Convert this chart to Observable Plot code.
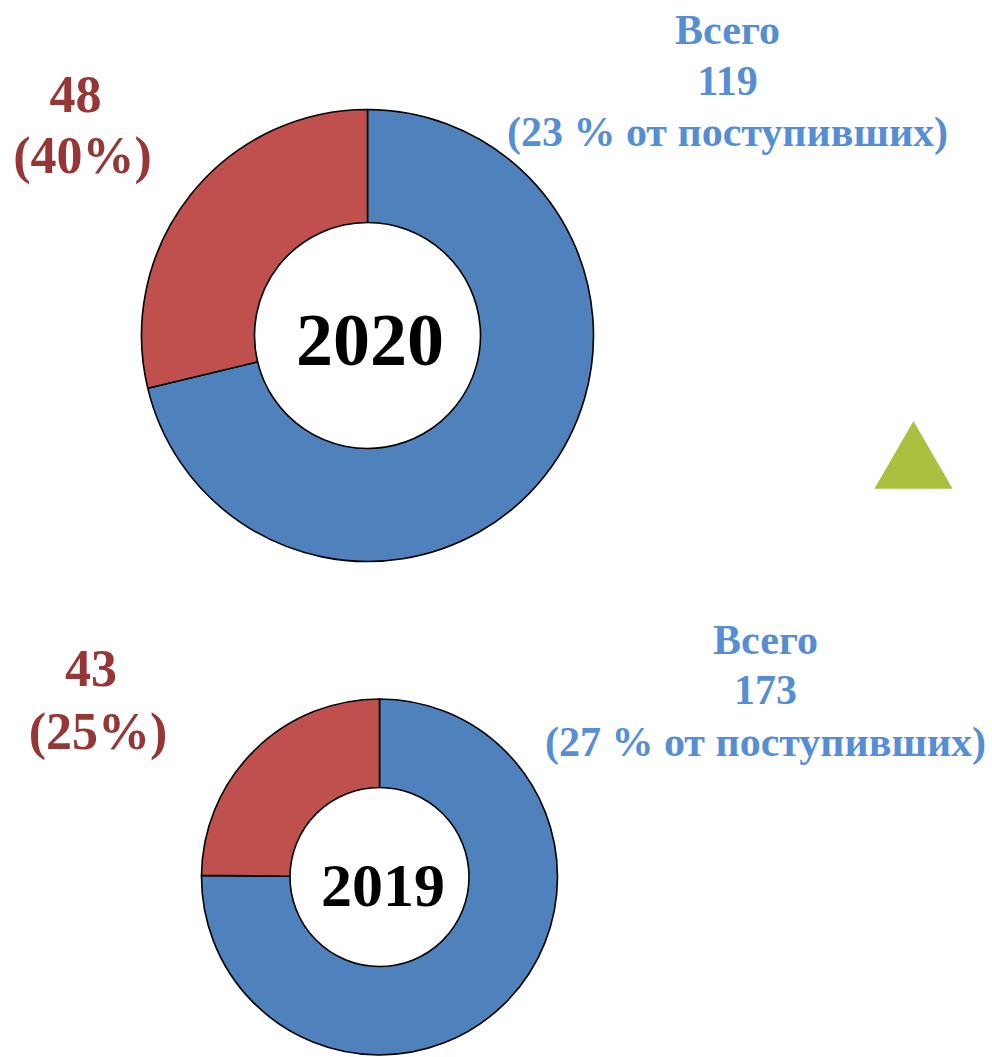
<!DOCTYPE html>
<html>
<head>
<meta charset="utf-8">
<script src="https://cdn.jsdelivr.net/npm/d3@7"></script>
<script src="https://cdn.jsdelivr.net/npm/@observablehq/plot@0.6"></script>
<style>
  html, body { margin: 0; padding: 0; background: #ffffff; }
  #chart svg { display: block; }
</style>
</head>
<body>
<div id="chart"></div>
<script>
// ---- data ----
const years = ["2020", "2019"];
const blueValues = [119, 130];
const redValues = [48, 43];
const redCounts = ["48", "43"];
const redPercents = ["(40%)", "(25%)"];
const totalWord = ["Всего", "Всего"];
const totalCounts = ["119", "173"];
const totalShares = ["(23 % от поступивших)", "(27 % от поступивших)"];

// ---- layout (positions in page units) ----
const layout = [
  {cx: 367.5, cy: 335.5, rOuter: 226, rInner: 113, yearX: 369.5, yearY: 364, yearSize: 74, yearStretch: 1,
   redX: [75, 82], redY: [111, 172], blueX: 727, blueY: [43, 94, 145]},
  {cx: 379.5, cy: 877, rOuter: 178, rInner: 89.5, yearX: 382.5, yearY: 905, yearSize: 62, yearStretch: 1.22,
   redX: [90.5, 97.5], redY: [685, 748], blueX: 765, blueY: [653, 703, 755]}
];
const blueFill = "#4F81BD", redFill = "#C0504D";
const redText = "#953735", blueText = "#558ED5";
const triColor = "#A9C13F";

const donuts = years.map((year, i) => ({year, values: [blueValues[i], redValues[i]], ...layout[i]}));

function donutMark(index, scales) {
  const {x, y} = scales;
  const g = d3.create("svg:g");
  const pie = d3.pie().sort(null);
  for (const d of donuts) {
    const px = x(d.cx), py = y(d.cy);
    const ro = x(d.cx + d.rOuter) - px, ri = x(d.cx + d.rInner) - px;
    const arc = d3.arc().outerRadius(ro).innerRadius(ri);
    g.append("g")
      .attr("transform", `translate(${px},${py})`)
      .selectAll("path")
      .data(pie(d.values))
      .join("path")
      .attr("d", arc)
      .attr("fill", (a, j) => j === 0 ? blueFill : redFill)
      .attr("stroke", "#000")
      .attr("stroke-width", 1.6)
      .attr("stroke-linejoin", "round");
  }
  return g.node();
}

const redRows = [], blueRows = [];
years.forEach((yr, i) => {
  const L = layout[i];
  redRows.push({t: redCounts[i], x: L.redX[0], y: L.redY[0]});
  redRows.push({t: redPercents[i], x: L.redX[1], y: L.redY[1]});
  blueRows.push({t: totalWord[i], x: L.blueX, y: L.blueY[0]});
  blueRows.push({t: totalCounts[i], x: L.blueX, y: L.blueY[1]});
  blueRows.push({t: totalShares[i], x: L.blueX, y: L.blueY[2]});
});

const font = "Liberation Serif, Times New Roman, serif";

const yearMarks = years.map((t, i) =>
  Plot.text([{t, x: layout[i].yearX, y: layout[i].yearY}], {x: "x", y: "y", text: "t", fontFamily: font,
    fontWeight: "bold", fontSize: layout[i].yearSize, fill: "#000", textAnchor: "middle",
    lineAnchor: "bottom", ariaLabel: "year-" + t}));

const svg = Plot.plot({
  width: 992,
  height: 1057,
  margin: 0,
  style: {background: "#ffffff", overflow: "visible"},
  x: {domain: [0, 992], range: [0, 992], axis: null},
  y: {domain: [0, 1057], range: [0, 1057], axis: null},
  marks: [
    donutMark,
    ...yearMarks,
    Plot.text(redRows, {x: "x", y: "y", text: "t", fontFamily: font, fontWeight: "bold",
      fontSize: 52, fill: redText, textAnchor: "middle", lineAnchor: "bottom", ariaLabel: "stretched-red"}),
    Plot.text(blueRows, {x: "x", y: "y", text: "t", fontFamily: font, fontWeight: "bold",
      fontSize: 42, fill: blueText, textAnchor: "middle", lineAnchor: "bottom", ariaLabel: "stretched-blue"}),
    Plot.dot([{x: 913, y: 465.6}], {x: "x", y: "y", symbol: "triangle", r: 29, fill: triColor, stroke: null})
  ]
});

// typographic tweaks matching the reference's vertically stretched glyphs
const s = d3.select(svg);
function stretch(sel, k) {
  sel.attr("transform", function () { return (this.getAttribute("transform") || "") + ` scale(1,${k})`; });
}
stretch(s.selectAll('g[aria-label="stretched-red"] text, g[aria-label="stretched-blue"] text'), 1.1);
years.forEach((t, i) => {
  if (layout[i].yearStretch !== 1) stretch(s.selectAll(`g[aria-label="year-${t}"] text`), layout[i].yearStretch);
});

document.getElementById("chart").appendChild(svg);
</script>
</body>
</html>
